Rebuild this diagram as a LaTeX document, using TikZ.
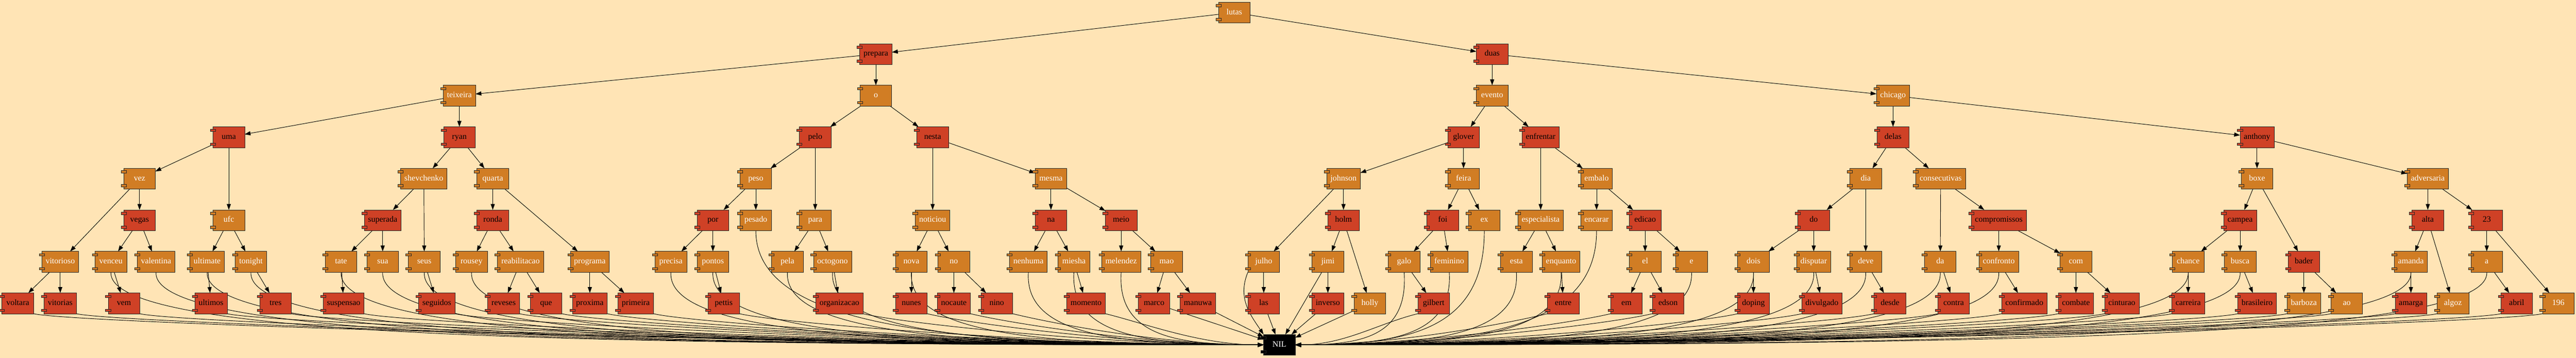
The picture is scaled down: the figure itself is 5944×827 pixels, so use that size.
\documentclass[tikz,border=0pt]{standalone}
\usepackage{fontspec}
\setmainfont{Liberation Serif}
\usetikzlibrary{arrows.meta,calc}
\definecolor{bgtan}{RGB}{255,228,181}
\definecolor{rbblk}{RGB}{209,125,36}
\definecolor{rbred}{RGB}{207,65,38}
\pgfdeclarelayer{bglayer}
\pgfdeclarelayer{edgelayer}
\pgfsetlayers{bglayer,edgelayer,main}
\tikzset{
  comp/.style={rectangle,draw=black!85,line width=0.8pt,outer sep=0pt,minimum width=73pt,minimum height=48pt,inner xsep=8.7pt,text height=13pt,text depth=4pt,font=\fontsize{19}{21}\selectfont},
  blacknode/.style={comp,fill=rbblk,text=white},
  rednode/.style={comp,fill=rbred,text=black},
  nilnode/.style={comp,fill=black,text=white},
  tedge/.style={-{Triangle[length=13.5pt,width=9.5pt]},line width=1.1pt},
  tabbox/.style={draw=black!85,line width=0.8pt,fill=#1}
}
\begin{document}
\begin{tikzpicture}[x=1pt,y=-1pt]
\begin{pgfonlayer}{bglayer}
\fill[bgtan] (0,0) rectangle (5944,827);
\end{pgfonlayer}
\useasboundingbox (0,0) rectangle (5944,827);
\node[blacknode] (lutas) at (2848,29) {lutas};
\node[rednode] (prepara) at (2021,125) {prepara};
\node[rednode] (duas) at (3443,125) {duas};
\node[blacknode] (teixeira) at (1060,221) {teixeira};
\node[blacknode] (o) at (2021,221) {o};
\node[blacknode] (evento) at (3443,221) {evento};
\node[blacknode] (chicago) at (4368,221) {chicago};
\node[rednode] (uma) at (528,317) {uma};
\node[rednode] (ryan) at (1060,317) {ryan};
\node[rednode] (pelo) at (1881,317) {pelo};
\node[rednode] (nesta) at (2152,317) {nesta};
\node[rednode] (glover) at (3377,317) {glover};
\node[rednode] (enfrentar) at (3555,317) {enfrentar};
\node[rednode] (delas) at (4368,317) {delas};
\node[rednode] (anthony) at (5208,317) {anthony};
\node[blacknode] (vez) at (322,413) {vez};
\node[blacknode] (shevchenko) at (978,413) {shevchenko};
\node[blacknode] (quarta) at (1137,413) {quarta};
\node[blacknode] (peso) at (1744,413) {peso};
\node[blacknode] (mesma) at (2425,413) {mesma};
\node[blacknode] (johnson) at (3100,413) {johnson};
\node[blacknode] (feira) at (3377,413) {feira};
\node[blacknode] (embalo) at (3684,413) {embalo};
\node[blacknode] (dia) at (4305,413) {dia};
\node[blacknode] (consecutivas) at (4478,413) {consecutivas};
\node[blacknode] (boxe) at (5208,413) {boxe};
\node[blacknode] (adversaria) at (5602,413) {adversaria};
\node[rednode] (vegas) at (322,509) {vegas};
\node[blacknode] (ufc) at (528,509) {ufc};
\node[rednode] (superada) at (883,509) {superada};
\node[rednode] (ronda) at (1137,509) {ronda};
\node[rednode] (por) at (1645,509) {por};
\node[blacknode] (pesado) at (1744,509) {pesado};
\node[blacknode] (para) at (1881,509) {para};
\node[blacknode] (noticiou) at (2152,509) {noticiou};
\node[rednode] (na) at (2425,509) {na};
\node[rednode] (meio) at (2587,509) {meio};
\node[rednode] (holm) at (3100,509) {holm};
\node[rednode] (foi) at (3329,509) {foi};
\node[blacknode] (ex) at (3425,509) {ex};
\node[blacknode] (especialista) at (3555,509) {especialista};
\node[blacknode] (encarar) at (3684,509) {encarar};
\node[rednode] (edicao) at (3796,509) {edicao};
\node[rednode] (do) at (4185,509) {do};
\node[rednode] (compromissos) at (4612,509) {compromissos};
\node[rednode] (campea) at (5169,509) {campea};
\node[rednode] (alta) at (5602,509) {alta};
\node[rednode] (n23) at (5738,509) {23};
\node[blacknode] (vitorioso) at (139,605) {vitorioso};
\node[blacknode] (venceu) at (256,605) {venceu};
\node[blacknode] (valentina) at (360,605) {valentina};
\node[blacknode] (ultimate) at (478,605) {ultimate};
\node[blacknode] (tonight) at (579,605) {tonight};
\node[blacknode] (tate) at (787,605) {tate};
\node[blacknode] (sua) at (883,605) {sua};
\node[blacknode] (seus) at (979,605) {seus};
\node[blacknode] (rousey) at (1088,605) {rousey};
\node[blacknode] (reabilitacao) at (1201,605) {reabilitacao};
\node[blacknode] (programa) at (1361,605) {programa};
\node[blacknode] (precisa) at (1548,605) {precisa};
\node[blacknode] (pontos) at (1645,605) {pontos};
\node[blacknode] (pela) at (1817,605) {pela};
\node[blacknode] (octogono) at (1921,605) {octogono};
\node[blacknode] (nova) at (2103,605) {nova};
\node[blacknode] (no) at (2201,605) {no};
\node[blacknode] (nenhuma) at (2373,605) {nenhuma};
\node[blacknode] (miesha) at (2478,605) {miesha};
\node[blacknode] (melendez) at (2587,605) {melendez};
\node[blacknode] (mao) at (2692,605) {mao};
\node[blacknode] (julho) at (2916,605) {julho};
\node[blacknode] (jimi) at (3064,605) {jimi};
\node[blacknode] (galo) at (3240,605) {galo};
\node[blacknode] (feminino) at (3344,605) {feminino};
\node[blacknode] (esta) at (3499,605) {esta};
\node[blacknode] (enquanto) at (3602,605) {enquanto};
\node[blacknode] (el) at (3796,605) {el};
\node[blacknode] (e) at (3903,605) {e};
\node[blacknode] (dois) at (4046,605) {dois};
\node[blacknode] (disputar) at (4185,605) {disputar};
\node[blacknode] (deve) at (4305,605) {deve};
\node[blacknode] (da) at (4477,605) {da};
\node[blacknode] (confronto) at (4612,605) {confronto};
\node[blacknode] (com) at (4790,605) {com};
\node[blacknode] (chance) at (5049,605) {chance};
\node[blacknode] (busca) at (5169,605) {busca};
\node[rednode] (bader) at (5316,605) {bader};
\node[blacknode] (amanda) at (5563,605) {amanda};
\node[blacknode] (a) at (5738,605) {a};
\node[rednode] (voltara) at (41,701) {voltara};
\node[rednode] (vitorias) at (139,701) {vitorias};
\node[rednode] (vem) at (286,701) {vem};
\node[rednode] (ultimos) at (487,701) {ultimos};
\node[rednode] (tres) at (636,701) {tres};
\node[rednode] (suspensao) at (793,701) {suspensao};
\node[rednode] (seguidos) at (1008,701) {seguidos};
\node[rednode] (reveses) at (1162,701) {reveses};
\node[rednode] (que) at (1260,701) {que};
\node[rednode] (proxima) at (1361,701) {proxima};
\node[rednode] (primeira) at (1467,701) {primeira};
\node[rednode] (pettis) at (1670,701) {pettis};
\node[rednode] (organizacao) at (1937,701) {organizacao};
\node[rednode] (nunes) at (2103,701) {nunes};
\node[rednode] (nocaute) at (2201,701) {nocaute};
\node[rednode] (nino) at (2300,701) {nino};
\node[rednode] (momento) at (2506,701) {momento};
\node[rednode] (marco) at (2663,701) {marco};
\node[rednode] (manuwa) at (2764,701) {manuwa};
\node[rednode] (las) at (2916,701) {las};
\node[rednode] (inverso) at (3064,701) {inverso};
\node[blacknode] (holly) at (3161,701) {holly};
\node[rednode] (gilbert) at (3308,701) {gilbert};
\node[rednode] (entre) at (3607,701) {entre};
\node[rednode] (em) at (3753,701) {em};
\node[rednode] (edson) at (3849,701) {edson};
\node[rednode] (doping) at (4046,701) {doping};
\node[rednode] (divulgado) at (4204,701) {divulgado};
\node[rednode] (desde) at (4361,701) {desde};
\node[rednode] (contra) at (4508,701) {contra};
\node[rednode] (confirmado) at (4671,701) {confirmado};
\node[rednode] (combate) at (4790,701) {combate};
\node[rednode] (cinturao) at (4896,701) {cinturao};
\node[rednode] (carreira) at (5049,701) {carreira};
\node[rednode] (brasileiro) at (5208,701) {brasileiro};
\node[blacknode] (barboza) at (5316,701) {barboza};
\node[blacknode] (ao) at (5415,701) {ao};
\node[rednode] (amarga) at (5563,701) {amarga};
\node[blacknode] (algoz) at (5660,701) {algoz};
\node[rednode] (abril) at (5807,701) {abril};
\node[blacknode] (n196) at (5903,701) {196};
\node[nilnode] (nil) at (2952,797) {NIL};
\begin{pgfonlayer}{edgelayer}
\foreach \p/\c in {lutas/prepara,lutas/duas,prepara/teixeira,prepara/o,duas/evento,duas/chicago,
  teixeira/uma,teixeira/ryan,o/pelo,o/nesta,evento/glover,evento/enfrentar,chicago/delas,chicago/anthony,
  uma/vez,uma/ufc,ryan/shevchenko,ryan/quarta,pelo/peso,pelo/para,nesta/noticiou,nesta/mesma,
  glover/johnson,glover/feira,enfrentar/especialista,enfrentar/embalo,delas/dia,delas/consecutivas,
  anthony/boxe,anthony/adversaria,vez/vitorioso,vez/vegas,shevchenko/superada,shevchenko/seus,
  quarta/ronda,quarta/programa,peso/por,peso/pesado,mesma/na,mesma/meio,johnson/julho,johnson/holm,
  feira/foi,feira/ex,embalo/encarar,embalo/edicao,dia/do,dia/deve,consecutivas/da,consecutivas/compromissos,
  boxe/campea,boxe/bader,adversaria/alta,adversaria/n23,vegas/venceu,vegas/valentina,ufc/ultimate,ufc/tonight,
  superada/tate,superada/sua,ronda/rousey,ronda/reabilitacao,por/precisa,por/pontos,para/pela,para/octogono,
  noticiou/nova,noticiou/no,na/nenhuma,na/miesha,meio/melendez,meio/mao,holm/jimi,holm/holly,
  foi/galo,foi/feminino,especialista/esta,especialista/enquanto,edicao/el,edicao/e,do/dois,do/disputar,
  compromissos/confronto,compromissos/com,campea/chance,campea/busca,alta/amanda,alta/algoz,n23/a,n23/n196,
  vitorioso/voltara,vitorioso/vitorias,venceu/vem,ultimate/ultimos,tonight/tres,tate/suspensao,seus/seguidos,
  reabilitacao/reveses,reabilitacao/que,programa/proxima,programa/primeira,pontos/pettis,octogono/organizacao,
  nova/nunes,no/nocaute,no/nino,miesha/momento,mao/marco,mao/manuwa,julho/las,jimi/inverso,galo/gilbert,
  enquanto/entre,el/em,el/edson,dois/doping,disputar/divulgado,deve/desde,da/contra,confronto/confirmado,
  com/combate,com/cinturao,chance/carreira,busca/brasileiro,bader/barboza,bader/ao,amanda/amarga,a/abril}
  \draw[tedge] (\p) -- (\c);
\draw[tedge] (pesado.south) .. controls +(0,230) and ($(nil.west)!0.6!(nil.west-|pesado.south)$) .. (nil.west);
\foreach \s in {valentina,venceu,ultimate,tonight,tate,sua,seus,rousey,precisa,pontos,pela,octogono,nova,nenhuma,miesha,melendez}
  \draw[tedge] (\s.south) .. controls +(-10,150) and ($(nil.west)!0.6!(nil.west-|\s.south)$) .. (nil.west);
\foreach \s in {voltara,vitorias,vem,ultimos,tres,suspensao,seguidos,reveses,que,proxima,primeira,pettis,organizacao,nunes,nocaute,nino,momento}
  \draw[tedge] (\s.south east) .. controls +(90,22) and ($(nil.west)!0.4!(nil.west-|\s.south east)$) .. (nil.west);
\draw[tedge] (marco) -- (nil);
\draw[tedge] (manuwa) -- (nil);
\draw[tedge] (las) -- (nil);
\draw[tedge] (julho.south west) .. controls +(-25,60) and +(-30,-45) .. (nil.north west);
\draw[tedge] (jimi) -- (nil);
\draw[tedge] (inverso) -- (nil);
\draw[tedge] (holly) -- (nil);
\foreach \s in {ex,encarar}
  \draw[tedge] (\s.south) .. controls +(0,230) and ($(nil.east)!0.6!(nil.east-|\s.south)$) .. (nil.east);
\foreach \s in {galo,feminino,esta,enquanto,e,dois,disputar,deve,da,confronto,chance,busca,amanda,a}
  \draw[tedge] (\s.south) .. controls +(10,150) and ($(nil.east)!0.6!(nil.east-|\s.south)$) .. (nil.east);
\foreach \s in {gilbert,entre,em,edson,doping,divulgado,desde,contra,confirmado,combate,cinturao,carreira,brasileiro,barboza,ao,amarga,algoz,abril,n196}
  \draw[tedge] (\s.south west) .. controls +(-90,22) and ($(nil.east)!0.4!(nil.east-|\s.south west)$) .. (nil.east);
\end{pgfonlayer}
\foreach \n in {lutas,teixeira,o,evento,chicago,vez,shevchenko,quarta,peso,mesma,johnson,feira,embalo,dia,consecutivas,boxe,adversaria,
  ufc,pesado,para,noticiou,ex,especialista,encarar,vitorioso,venceu,valentina,ultimate,tonight,tate,sua,seus,rousey,reabilitacao,
  programa,precisa,pontos,pela,octogono,nova,no,nenhuma,miesha,melendez,mao,julho,jimi,galo,feminino,esta,enquanto,el,e,dois,
  disputar,deve,da,confronto,com,chance,busca,amanda,a,holly,barboza,ao,algoz,n196}
  \draw[tabbox=rbblk] ($(\n.north west)+(-6pt,-5.3pt)$) rectangle ++(12pt,-5.3pt) ($(\n.south west)+(-6pt,5.3pt)$) rectangle ++(12pt,5.3pt);
\foreach \n in {prepara,duas,uma,ryan,pelo,nesta,glover,enfrentar,delas,anthony,vegas,superada,ronda,por,na,meio,holm,foi,edicao,do,
  compromissos,campea,alta,n23,bader,voltara,vitorias,vem,ultimos,tres,suspensao,seguidos,reveses,que,proxima,primeira,pettis,
  organizacao,nunes,nocaute,nino,momento,marco,manuwa,las,inverso,gilbert,entre,em,edson,doping,divulgado,desde,contra,
  confirmado,combate,cinturao,carreira,brasileiro,amarga,abril}
  \draw[tabbox=rbred] ($(\n.north west)+(-6pt,-5.3pt)$) rectangle ++(12pt,-5.3pt) ($(\n.south west)+(-6pt,5.3pt)$) rectangle ++(12pt,5.3pt);
\draw[tabbox=black] ($(nil.north west)+(-6pt,-5.3pt)$) rectangle ++(12pt,-5.3pt) ($(nil.south west)+(-6pt,5.3pt)$) rectangle ++(12pt,5.3pt);
\end{tikzpicture}
\end{document}
